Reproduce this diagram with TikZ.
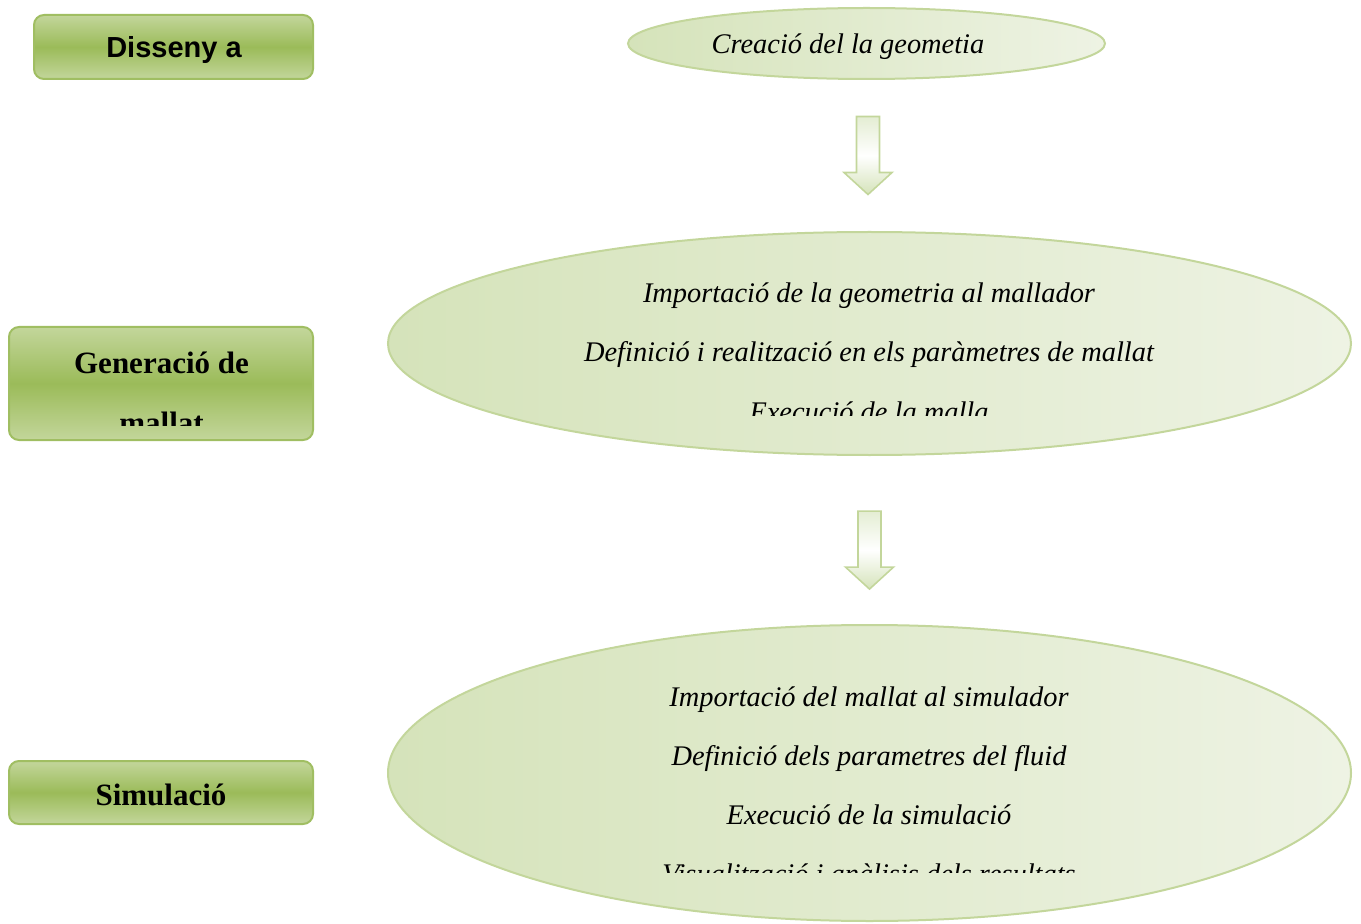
\documentclass[tikz,border=0pt]{standalone}
\usepackage{fontspec}
\setmainfont{Liberation Serif}
\newfontfamily\boxsans{Liberation Sans}
\usetikzlibrary{shapes.geometric,calc}

\definecolor{boxgreen}{HTML}{9BBB59}
\definecolor{boxlight}{HTML}{C3D69B}
\definecolor{boxedge}{HTML}{A0BE62}
\definecolor{bubbleleft}{HTML}{D5E3BA}
\definecolor{bubbleright}{HTML}{EEF3E4}
\definecolor{bubbleedge}{HTML}{C3D69B}
\definecolor{arrowtop}{HTML}{E4EDD3}

% block arrow pointing down, centred on a coordinate
\newcommand{\downblock}[1]{%
	\path[blockarrow] ($#1+(-11.5,39)$) -- ($#1+(11.5,39)$) -- ($#1+(11.5,-17)$)
	-- ($#1+(24,-17)$) -- ($#1+(0,-39)$) -- ($#1+(-24,-17)$) -- ($#1+(-11.5,-17)$) -- cycle;}

\begin{document}
\begin{tikzpicture}[x=0.5pt, y=0.5pt,
		stagebox/.style={draw=boxedge, line width=1pt, rounded corners=5pt,
			top color=boxlight, bottom color=boxlight, middle color=boxgreen,
			inner sep=0pt, minimum width=152pt},
		stagetext/.style={anchor=base, inner sep=0pt, font=\fontsize{15.5}{18}\selectfont\bfseries},
		bubble/.style={ellipse, draw=bubbleedge, line width=1pt,
			left color=bubbleleft, right color=bubbleright, inner sep=0pt},
		steptext/.style={anchor=base, inner sep=0pt, font=\fontsize{14.2}{17}\selectfont\itshape},
		blockarrow/.style={draw=bubbleedge, line width=0.8pt,
			top color=arrowtop, bottom color=bubbleleft, middle color=white}]
	
	\useasboundingbox (0,0) rectangle (1361,923);
	
	% ---------- Stage boxes (left column) ----------
	\node[stagebox, minimum width=139.5pt, minimum height=32pt] (disseny) at (173.5,876) {};
	\node[stagebox, minimum height=56.5pt] (generacio) at (161,539.5) {};
	\node[stagebox, minimum height=31.5pt] (simulacio) at (161,130.5) {};
	
	\node[stagetext, font=\fontsize{14.5}{18}\selectfont\boxsans\bfseries] (disseny-txt) at (174,865) {Disseny a};
	\begin{scope}
		\clip (0,498) rectangle (340,923);
		\node[stagetext] (generacio-txt1) at (161.5,549) {Generació de};
		\node[stagetext] (generacio-txt2) at (161.5,490) {mallat};
	\end{scope}
	\node[stagetext] (simulacio-txt) at (161,118) {Simulació};
	
	% ---------- Process bubbles ----------
	\node[bubble, minimum width=238.5pt, minimum height=35.5pt] (geo) at (866.5,879.5) {};
	\node[bubble, minimum width=481.5pt, minimum height=111.5pt] (mesh) at (869.5,579.5) {};
	\node[bubble, minimum width=481.5pt, minimum height=148pt] (sim) at (869.5,150) {};
	
	\node[steptext] (geo-txt) at (848,869) {Creació del la geometia};
	
	% text of the bubbles is cut off at the bottom
	\begin{scope}
		\clip (380,508) rectangle (1361,700);
		\foreach \t [count=\i] in {Importació de la geometria al mallador,
			Definició i realització en els paràmetres de mallat,
			Execució de la malla}
		\node[steptext] (mesh-\i) at (869,679-59*\i) {\t};
	\end{scope}
	\begin{scope}
		\clip (380,51) rectangle (1361,300);
		\foreach \t [count=\i] in {Importació del mallat al simulador,
			Definició dels parametres del fluid,
			Execució de la simulació,
			Visualització i anàlisis dels resultats}
		\node[steptext] (sim-\i) at (869,276-59*\i) {\t};
	\end{scope}
	
	% ---------- Block arrows between bubbles ----------
	\coordinate (flow1) at ($(geo.south)!0.5!(mesh.north)$);
	\coordinate (flow2) at ($(mesh.south)!0.56!(sim.north)$);
	\downblock{(flow1)}
	\downblock{(flow2)}
	
\end{tikzpicture}
\end{document}
